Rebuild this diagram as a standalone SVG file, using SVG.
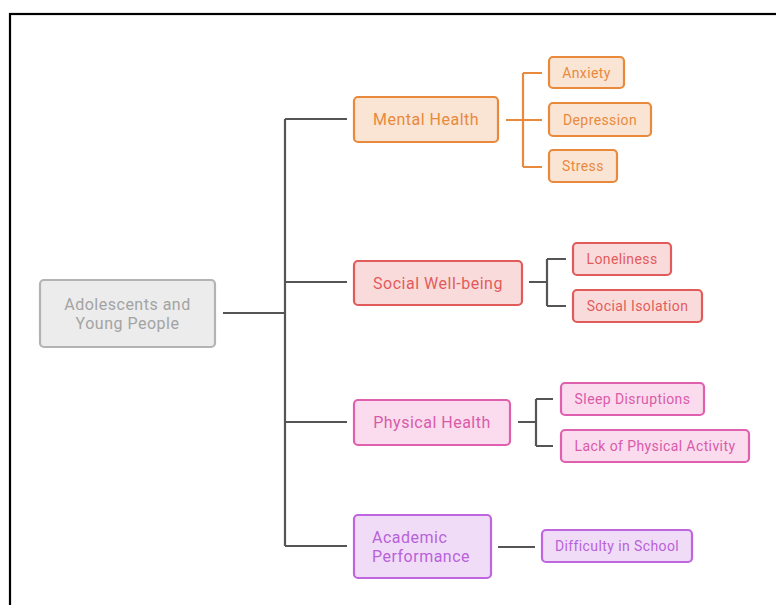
<svg xmlns="http://www.w3.org/2000/svg" width="776" height="605" viewBox="0 0 776 605">
<style>
text{font-family:Roboto,"Liberation Sans",sans-serif;dominant-baseline:central;text-anchor:middle}
.m{font-size:16px;letter-spacing:0.5px}.l{font-size:14px;letter-spacing:0.4px}
.g rect{fill:#ececec;stroke:#b3b3b3}.g text{fill:#a3a3a3}
.o rect{fill:#fae5d4;stroke:#e8893c}.o text{fill:#e8893c}
.r rect{fill:#fadbdb;stroke:#e25b5b}.r text{fill:#e25b5b}
.p rect{fill:#fadcee;stroke:#e060b0}.p text{fill:#d95aa9}
.v rect{fill:#f1dcf8;stroke:#c065e0}.v text{fill:#b862d9}
rect{stroke-width:2.2}
.c path{fill:none;stroke:#555;stroke-width:2.2}
.c path.oc{stroke:#e8893c}
</style>
<rect x="10" y="14" width="780" height="600" fill="#fff" stroke="#000" stroke-width="2.2"/>
<g class="c">
<path d="M223 313H285M285 119V546M285 119H347M285 282H347M285 422H347M285 546H347"/>
<path class="oc" d="M506 120H523M523 73V167M523 73H542M523 120H542M523 167H542"/>
<path d="M529 282H547M547 259V306M547 259H566M547 306H566"/>
<path d="M518 422H536M536 399V446M536 399H553M536 446H553"/>
<path d="M498 547H535"/>
</g>
<g id="root" class="g"><rect x="40" y="280" width="175" height="67" rx="4"/><text class="m" x="127.5" y="304">Adolescents and</text><text class="m" x="127.5" y="323">Young People</text></g>
<g id="mental" class="o"><rect x="354" y="97" width="144" height="45" rx="4"/><text class="m" x="426" y="119.5">Mental Health</text></g>
<g id="anxiety" class="o"><rect x="549" y="57" width="75" height="31" rx="4"/><text class="l" x="586.5" y="72.5">Anxiety</text></g>
<g id="depression" class="o"><rect x="549" y="103" width="102" height="33" rx="4"/><text class="l" x="600" y="119.5">Depression</text></g>
<g id="stress" class="o"><rect x="549" y="150" width="68" height="32" rx="4"/><text class="l" x="583" y="166">Stress</text></g>
<g id="social" class="r"><rect x="354" y="261" width="168" height="44" rx="4"/><text class="m" x="438" y="283">Social Well-being</text></g>
<g id="loneliness" class="r"><rect x="573" y="243" width="98" height="32" rx="4"/><text class="l" x="622" y="259">Loneliness</text></g>
<g id="isolation" class="r"><rect x="573" y="290" width="129" height="32" rx="4"/><text class="l" x="637.5" y="306">Social Isolation</text></g>
<g id="physical" class="p"><rect x="354" y="400" width="156" height="45" rx="4"/><text class="m" x="432" y="422.5">Physical Health</text></g>
<g id="sleep" class="p"><rect x="561" y="383" width="143" height="32" rx="4"/><text class="l" x="632.5" y="399">Sleep Disruptions</text></g>
<g id="activity" class="p"><rect x="561" y="430" width="188" height="32" rx="4"/><text class="l" x="655" y="446">Lack of Physical Activity</text></g>
<g id="academic" class="v"><rect x="354" y="515" width="137" height="63" rx="4"/><text class="m" x="372" y="537" style="text-anchor:start">Academic</text><text class="m" x="372" y="556" style="text-anchor:start">Performance</text></g>
<g id="difficulty" class="v"><rect x="542" y="530" width="150" height="32" rx="4"/><text class="l" x="617" y="546">Difficulty in School</text></g>
</svg>
